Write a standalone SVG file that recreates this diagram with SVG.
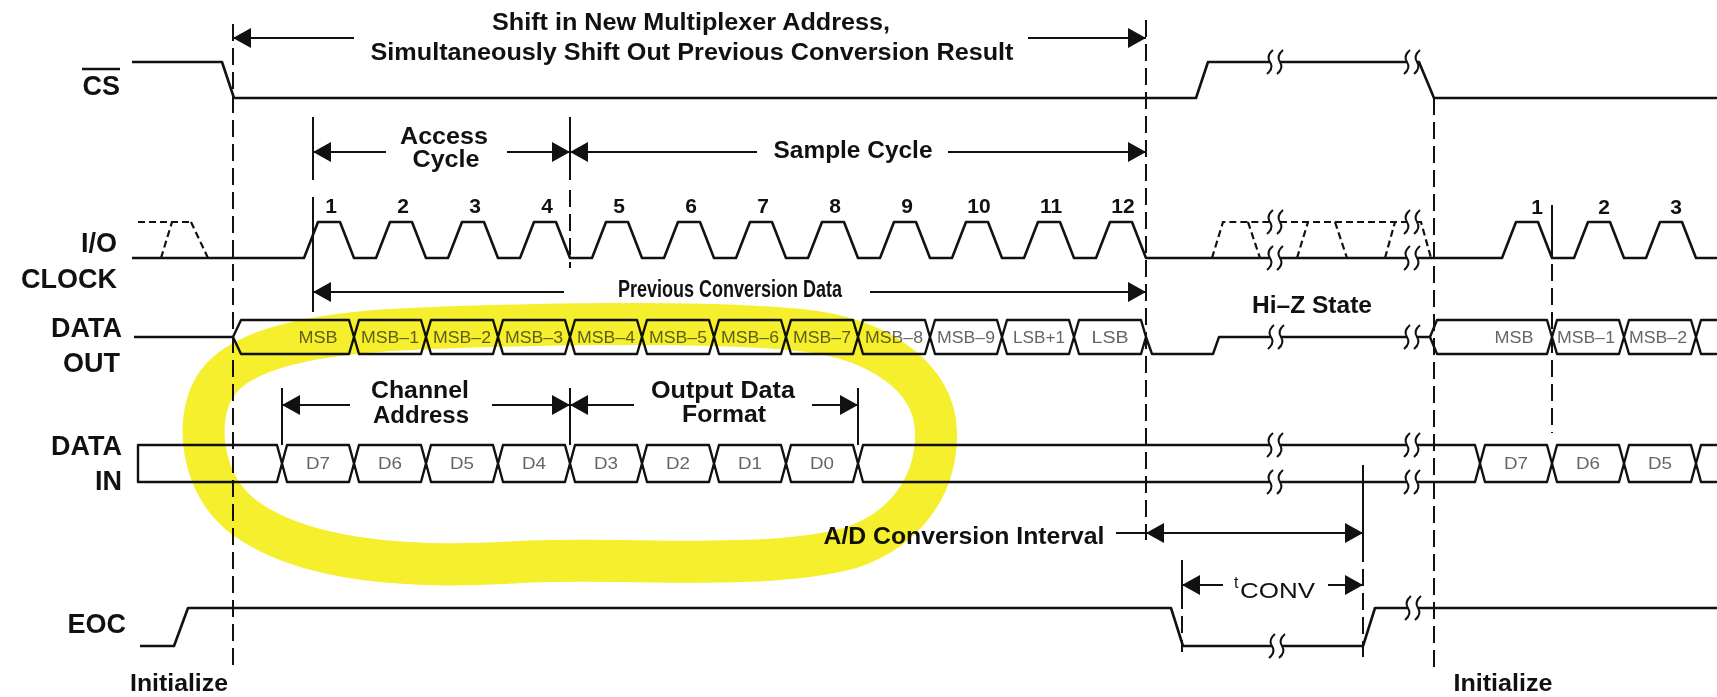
<svg xmlns="http://www.w3.org/2000/svg" width="1717" height="697" viewBox="0 0 1717 697">
<style>
.w{fill:none;stroke:#111;stroke-width:2.6;stroke-linejoin:round}
.c{fill:none;stroke:#111;stroke-width:2.4;stroke-linejoin:round}
.d{fill:none;stroke:#111;stroke-width:2;stroke-dasharray:17 7}
.dw{fill:none;stroke:#111;stroke-width:2.2;stroke-dasharray:7 4}
.v{fill:none;stroke:#111;stroke-width:2}
.a{fill:none;stroke:#111;stroke-width:2;marker-end:url(#ah)}
.lbl{font-family:"Liberation Sans",Arial,sans-serif;font-weight:bold;font-size:27px;fill:#111;text-anchor:end}
.ann{font-family:"Liberation Sans",Arial,sans-serif;font-weight:bold;font-size:23px;fill:#111;text-anchor:middle}
.cell{font-family:"Liberation Sans",Arial,sans-serif;font-size:16px;fill:#666;text-anchor:middle}
.num{font-family:"Liberation Sans",Arial,sans-serif;font-weight:bold;font-size:21px;fill:#111;text-anchor:middle}
.brk{fill:none;stroke:#111;stroke-width:2}
.gap{fill:#fff}
</style>
<defs>
<marker id="ah" viewBox="0 0 18 20" refX="18" refY="10" markerWidth="18" markerHeight="20" markerUnits="userSpaceOnUse" orient="auto"><path d="M0,0 L18,10 L0,20 Z" fill="#111"/></marker>
<path id="bk" class="brk" d="M3,-12 Q-4,-6 0,0 Q4,6 -3,12"/>
</defs>
<rect width="1717" height="697" fill="#fff"/>

<g id="labels">
<text class="lbl" x="120" y="95">CS</text>
<line x1="82" y1="69" x2="120" y2="69" stroke="#111" stroke-width="2.6"/>
<text class="lbl" x="117" y="252">I/O</text>
<text class="lbl" x="117" y="288">CLOCK</text>
<text class="lbl" x="122" y="337">DATA</text>
<text class="lbl" x="120" y="372">OUT</text>
<text class="lbl" x="122" y="455">DATA</text>
<text class="lbl" x="122" y="490">IN</text>
<text class="lbl" x="126" y="633">EOC</text>
<text class="ann" x="179" y="691" font-size="24" textLength="98" lengthAdjust="spacingAndGlyphs">Initialize</text>
<text class="ann" x="1503" y="691" font-size="24" textLength="99" lengthAdjust="spacingAndGlyphs">Initialize</text>
</g>

<g id="guides">
<line class="d" x1="233" y1="24" x2="233" y2="665"/>
<line class="v" x1="313" y1="117" x2="313" y2="180"/>
<line class="v" x1="313" y1="197" x2="313" y2="312"/>
<line class="v" x1="570" y1="117" x2="570" y2="180"/>
<line class="d" x1="570" y1="190" x2="570" y2="268"/>
<line class="v" x1="570" y1="388" x2="570" y2="445"/>
<line class="v" x1="282" y1="388" x2="282" y2="445"/>
<line class="v" x1="858" y1="388" x2="858" y2="445"/>
<line class="d" x1="1146" y1="20" x2="1146" y2="540"/>
<line class="d" x1="1434" y1="98" x2="1434" y2="672"/>
<line class="v" x1="1552" y1="205" x2="1552" y2="240"/>
<line class="d" x1="1552" y1="240" x2="1552" y2="433"/>
<line class="v" x1="1182" y1="560" x2="1182" y2="592"/>
<line class="d" x1="1182" y1="592" x2="1182" y2="652"/>
<line class="v" x1="1363" y1="465" x2="1363" y2="545"/>
<line class="d" x1="1363" y1="545" x2="1363" y2="657"/>
</g>

<g id="cs">
<path class="w" d="M132,62 H222 L234,98 H1196 L1208,62 H1419 L1434,98 H1717"/>
</g>

<g id="clock">
<path class="w" d="M132,258 H304 L318,222 H340 L354,258 H376 L390,222 H412 L426,258 H448 L462,222 H484 L498,258 H520 L534,222 H556 L570,258 H592 L606,222 H628 L642,258 H664 L678,222 H700 L714,258 H736 L750,222 H772 L786,258 H808 L822,222 H844 L858,258 H880 L894,222 H916 L930,258 H952 L966,222 H988 L1002,258 H1024 L1038,222 H1060 L1074,258 H1096 L1110,222 H1132 L1146,258 H1502 L1516,222 H1538 L1552,258 H1574 L1588,222 H1610 L1624,258 H1646 L1660,222 H1682 L1696,258 H1717"/>
<path class="dw" d="M138,222 H191 M161,258 L172,222 M191,222 L208,258"/>
<path class="dw" d="M1212,258 L1223,222 H1270 M1248,222 L1260,258 M1280,222 H1407 M1297,258 L1308,222 M1335,222 L1347,258 M1385,258 L1395,222 M1417,222 H1421 L1431,258"/>
<text class="num" x="331" y="213">1</text>
<text class="num" x="403" y="213">2</text>
<text class="num" x="475" y="213">3</text>
<text class="num" x="547" y="213">4</text>
<text class="num" x="619" y="213">5</text>
<text class="num" x="691" y="213">6</text>
<text class="num" x="763" y="213">7</text>
<text class="num" x="835" y="213">8</text>
<text class="num" x="907" y="213">9</text>
<text class="num" x="979" y="213">10</text>
<text class="num" x="1051" y="213">11</text>
<text class="num" x="1123" y="213">12</text>
<text class="num" x="1537" y="214">1</text>
<text class="num" x="1604" y="214">2</text>
<text class="num" x="1676" y="214">3</text>
</g>

<g id="dataout">
<path class="c" d="M134,337 H233 M1146,337 L1152,354 H1213 L1219,337 H1430"/>
<path class="c" d="M233,337 L241,320 H349 L354,337 L349,354 H241 Z
M354,337 L359,320 H421 L426,337 L421,354 H359 Z
M426,337 L431,320 H493 L498,337 L493,354 H431 Z
M498,337 L503,320 H565 L570,337 L565,354 H503 Z
M570,337 L575,320 H637 L642,337 L637,354 H575 Z
M642,337 L647,320 H709 L714,337 L709,354 H647 Z
M714,337 L719,320 H781 L786,337 L781,354 H719 Z
M786,337 L791,320 H853 L858,337 L853,354 H791 Z
M858,337 L863,320 H925 L930,337 L925,354 H863 Z
M930,337 L935,320 H997 L1002,337 L997,354 H935 Z
M1002,337 L1007,320 H1069 L1074,337 L1069,354 H1007 Z
M1074,337 L1079,320 H1141 L1146,337 L1141,354 H1079 Z
M1430,337 L1437,320 H1547 L1552,337 L1547,354 H1437 Z
M1552,337 L1557,320 H1619 L1624,337 L1619,354 H1557 Z
M1624,337 L1629,320 H1691 L1696,337 L1691,354 H1629 Z
M1717,320 H1701 L1696,337 L1701,354 H1717"/>
<text class="cell" x="318" y="343" textLength="39" lengthAdjust="spacingAndGlyphs">MSB</text>
<text class="cell" x="390" y="343" textLength="58" lengthAdjust="spacingAndGlyphs">MSB–1</text>
<text class="cell" x="462" y="343" textLength="58" lengthAdjust="spacingAndGlyphs">MSB–2</text>
<text class="cell" x="534" y="343" textLength="58" lengthAdjust="spacingAndGlyphs">MSB–3</text>
<text class="cell" x="606" y="343" textLength="58" lengthAdjust="spacingAndGlyphs">MSB–4</text>
<text class="cell" x="678" y="343" textLength="58" lengthAdjust="spacingAndGlyphs">MSB–5</text>
<text class="cell" x="750" y="343" textLength="58" lengthAdjust="spacingAndGlyphs">MSB–6</text>
<text class="cell" x="822" y="343" textLength="58" lengthAdjust="spacingAndGlyphs">MSB–7</text>
<text class="cell" x="894" y="343" textLength="58" lengthAdjust="spacingAndGlyphs">MSB–8</text>
<text class="cell" x="966" y="343" textLength="58" lengthAdjust="spacingAndGlyphs">MSB–9</text>
<text class="cell" x="1039" y="343" textLength="52" lengthAdjust="spacingAndGlyphs">LSB+1</text>
<text class="cell" x="1110" y="343" textLength="37" lengthAdjust="spacingAndGlyphs">LSB</text>
<text class="cell" x="1514" y="343" textLength="39" lengthAdjust="spacingAndGlyphs">MSB</text>
<text class="cell" x="1586" y="343" textLength="58" lengthAdjust="spacingAndGlyphs">MSB–1</text>
<text class="cell" x="1658" y="343" textLength="58" lengthAdjust="spacingAndGlyphs">MSB–2</text>
</g>

<g id="datain">
<path class="c" d="M138,445 H277 L282,463.5 L277,482 H138 Z
M282,463.5 L287,445 H349 L354,463.5 L349,482 H287 Z
M354,463.5 L359,445 H421 L426,463.5 L421,482 H359 Z
M426,463.5 L431,445 H493 L498,463.5 L493,482 H431 Z
M498,463.5 L503,445 H565 L570,463.5 L565,482 H503 Z
M570,463.5 L575,445 H637 L642,463.5 L637,482 H575 Z
M642,463.5 L647,445 H709 L714,463.5 L709,482 H647 Z
M714,463.5 L719,445 H781 L786,463.5 L781,482 H719 Z
M786,463.5 L791,445 H853 L858,463.5 L853,482 H791 Z
M858,463.5 L863,445 H1475 L1480,463.5 L1475,482 H863 Z
M1480,463.5 L1485,445 H1547 L1552,463.5 L1547,482 H1485 Z
M1552,463.5 L1557,445 H1619 L1624,463.5 L1619,482 H1557 Z
M1624,463.5 L1629,445 H1691 L1696,463.5 L1691,482 H1629 Z
M1717,445 H1701 L1696,463.5 L1701,482 H1717"/>
<text class="cell" x="318" y="469" font-size="17" textLength="24" lengthAdjust="spacingAndGlyphs">D7</text>
<text class="cell" x="390" y="469" font-size="17" textLength="24" lengthAdjust="spacingAndGlyphs">D6</text>
<text class="cell" x="462" y="469" font-size="17" textLength="24" lengthAdjust="spacingAndGlyphs">D5</text>
<text class="cell" x="534" y="469" font-size="17" textLength="24" lengthAdjust="spacingAndGlyphs">D4</text>
<text class="cell" x="606" y="469" font-size="17" textLength="24" lengthAdjust="spacingAndGlyphs">D3</text>
<text class="cell" x="678" y="469" font-size="17" textLength="24" lengthAdjust="spacingAndGlyphs">D2</text>
<text class="cell" x="750" y="469" font-size="17" textLength="24" lengthAdjust="spacingAndGlyphs">D1</text>
<text class="cell" x="822" y="469" font-size="17" textLength="24" lengthAdjust="spacingAndGlyphs">D0</text>
<text class="cell" x="1516" y="469" font-size="17" textLength="24" lengthAdjust="spacingAndGlyphs">D7</text>
<text class="cell" x="1588" y="469" font-size="17" textLength="24" lengthAdjust="spacingAndGlyphs">D6</text>
<text class="cell" x="1660" y="469" font-size="17" textLength="24" lengthAdjust="spacingAndGlyphs">D5</text>
</g>

<g id="eoc">
<path class="w" d="M140,646 H174 L188,608 H1171 L1183,646 H1363 L1375,608 H1717"/>
</g>

<g id="breaks">
<rect class="gap" x="1270" y="58" width="10" height="8"/><use href="#bk" x="1270" y="62"/><use href="#bk" x="1280" y="62"/>
<rect class="gap" x="1407" y="58" width="10" height="8"/><use href="#bk" x="1407" y="62"/><use href="#bk" x="1417" y="62"/>
<rect class="gap" x="1270" y="218" width="10" height="8"/><use href="#bk" x="1270" y="222"/><use href="#bk" x="1280" y="222"/>
<rect class="gap" x="1270" y="254" width="10" height="8"/><use href="#bk" x="1270" y="258"/><use href="#bk" x="1280" y="258"/>
<rect class="gap" x="1407" y="218" width="10" height="8"/><use href="#bk" x="1407" y="222"/><use href="#bk" x="1417" y="222"/>
<rect class="gap" x="1407" y="254" width="10" height="8"/><use href="#bk" x="1407" y="258"/><use href="#bk" x="1417" y="258"/>
<rect class="gap" x="1271" y="333" width="10" height="8"/><use href="#bk" x="1271" y="337"/><use href="#bk" x="1281" y="337"/>
<rect class="gap" x="1407" y="333" width="10" height="8"/><use href="#bk" x="1407" y="337"/><use href="#bk" x="1417" y="337"/>
<rect class="gap" x="1270" y="441" width="10" height="8"/><use href="#bk" x="1270" y="445"/><use href="#bk" x="1280" y="445"/>
<rect class="gap" x="1270" y="478" width="10" height="8"/><use href="#bk" x="1270" y="482"/><use href="#bk" x="1280" y="482"/>
<rect class="gap" x="1407" y="441" width="10" height="8"/><use href="#bk" x="1407" y="445"/><use href="#bk" x="1417" y="445"/>
<rect class="gap" x="1407" y="478" width="10" height="8"/><use href="#bk" x="1407" y="482"/><use href="#bk" x="1417" y="482"/>
<rect class="gap" x="1272" y="642" width="10" height="8"/><use href="#bk" x="1272" y="646"/><use href="#bk" x="1282" y="646"/>
<rect class="gap" x="1408" y="604" width="10" height="8"/><use href="#bk" x="1408" y="608"/><use href="#bk" x="1418" y="608"/>
</g>

<g id="connectors">
<line class="a" x1="354" y1="38" x2="233" y2="38"/>
<line class="a" x1="1028" y1="38" x2="1146" y2="38"/>
<line class="a" x1="386" y1="152" x2="313" y2="152"/>
<line class="a" x1="507" y1="152" x2="570" y2="152"/>
<line class="a" x1="757" y1="152" x2="570" y2="152"/>
<line class="a" x1="948" y1="152" x2="1146" y2="152"/>
<line class="a" x1="564" y1="292" x2="313" y2="292"/>
<line class="a" x1="870" y1="292" x2="1146" y2="292"/>
<line class="a" x1="350" y1="405" x2="282" y2="405"/>
<line class="a" x1="492" y1="405" x2="570" y2="405"/>
<line class="a" x1="634" y1="405" x2="570" y2="405"/>
<line class="a" x1="812" y1="405" x2="858" y2="405"/>
<line class="v" x1="1116" y1="533" x2="1146" y2="533"/>
<line class="a" x1="1255" y1="533" x2="1146" y2="533"/>
<line class="a" x1="1255" y1="533" x2="1363" y2="533"/>
<line class="a" x1="1223" y1="585" x2="1182" y2="585"/>
<line class="a" x1="1328" y1="585" x2="1363" y2="585"/>
</g>

<g id="annotations">
<text class="ann" x="691" y="30" textLength="398" lengthAdjust="spacingAndGlyphs">Shift in New Multiplexer Address,</text>
<text class="ann" x="692" y="60" textLength="643" lengthAdjust="spacingAndGlyphs">Simultaneously Shift Out Previous Conversion Result</text>
<text class="ann" x="444" y="144" textLength="88" lengthAdjust="spacingAndGlyphs">Access</text>
<text class="ann" x="446" y="167" textLength="67" lengthAdjust="spacingAndGlyphs">Cycle</text>
<text class="ann" x="853" y="158" textLength="159" lengthAdjust="spacingAndGlyphs">Sample Cycle</text>
<text class="ann" x="730" y="297" font-size="18" textLength="224" lengthAdjust="spacingAndGlyphs">Previous Conversion Data</text>
<text class="ann" x="420" y="398" textLength="98" lengthAdjust="spacingAndGlyphs">Channel</text>
<text class="ann" x="421" y="423" textLength="96" lengthAdjust="spacingAndGlyphs">Address</text>
<text class="ann" x="723" y="398" textLength="144" lengthAdjust="spacingAndGlyphs">Output Data</text>
<text class="ann" x="724" y="422" textLength="84" lengthAdjust="spacingAndGlyphs">Format</text>
<text class="ann" x="964" y="544" textLength="281" lengthAdjust="spacingAndGlyphs">A/D Conversion Interval</text>
<text class="ann" x="1312" y="313" font-size="22" textLength="120" lengthAdjust="spacingAndGlyphs">Hi–Z State</text>
<text x="1234" y="588" font-family="Liberation Sans, Arial, sans-serif" font-size="16" fill="#111">t</text>
<text x="1240" y="598" font-family="Liberation Sans, Arial, sans-serif" font-size="22" fill="#111" textLength="75" lengthAdjust="spacingAndGlyphs">CONV</text>
</g>

<g id="highlight" style="mix-blend-mode:multiply">
<path d="M390,330 C520,324 700,320 800,330 C880,338 935,378 936,432 C937,486 905,530 850,548 C760,572 620,556 520,562 C400,570 300,558 245,518 C200,485 195,420 214,388 C235,352 300,336 390,330 Z" fill="none" stroke="#f5ef2e" stroke-width="42" stroke-linecap="round" stroke-linejoin="round"/>
</g>
</svg>
